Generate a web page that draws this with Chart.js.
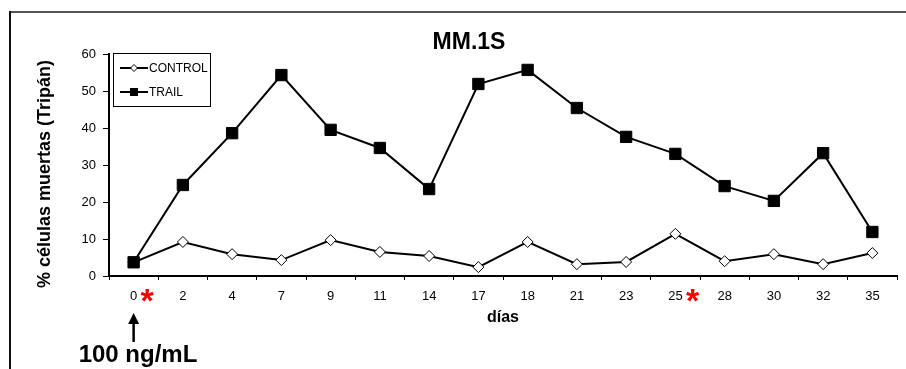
<!DOCTYPE html>
<html><head><meta charset="utf-8">
<script src="https://cdn.jsdelivr.net/npm/chart.js@4"></script>
<style>html,body{margin:0;padding:0;background:#fff}#wrap{position:relative;width:906px;height:369px}</style>
</head><body><div id="wrap"><canvas id="c" width="906" height="369"></canvas></div>
<script>
const days = ['0','2','4','7','9','11','14','17','18','21','23','25','28','30','32','35'];
const control = [3.7,9.2,5.9,4.3,9.7,6.5,5.4,2.4,9.2,3.2,3.8,11.4,4.0,5.9,3.2,6.2];
const trail = [3.7,24.6,38.6,54.3,39.5,34.6,23.5,51.9,55.7,45.4,37.6,33.0,24.3,20.3,33.2,11.9];
const seriesNames = ['CONTROL','TRAIL'];
const chartTitle = 'MM.1S';
const xTitle = 'días';
const yTitle = '% células muertas (Tripán)';
const doseNote = '100 ng/mL';
const markedDays = ['0','25'];
const yMin = 0, yMax = 60, yStep = 10;

const FONT = '"Liberation Sans", Arial, sans-serif';

const extras = {
  id: 'extras',
  afterDraw(chart) {
    const ctx = chart.ctx;
    const xs = chart.scales.x, ys = chart.scales.y, ca = chart.chartArea;
    ctx.save();
    // outer frame
    ctx.fillStyle = '#555';
    ctx.fillRect(9, 11, 897, 2);
    ctx.fillStyle = '#111';
    ctx.fillRect(9, 11, 2, 358);
    // title
    ctx.fillStyle = '#000';
    ctx.font = 'bold 23px ' + FONT;
    ctx.textAlign = 'center';
    ctx.textBaseline = 'middle';
    ctx.fillText(chartTitle, 469, 43);
    // x title
    ctx.font = 'bold 16px ' + FONT;
    ctx.fillText(xTitle, (ca.left + ca.right) / 2, 318);
    // y title
    ctx.save();
    ctx.font = 'bold 18px ' + FONT;
    ctx.translate(45, 174);
    ctx.rotate(-Math.PI / 2);
    ctx.fillText(yTitle, 0, 0);
    ctx.restore();
    // asterisks
    markedDays.forEach(d => {
      const i = days.indexOf(d);
      const px = xs.getPixelForValue(i);
      ctx.font = '13px ' + FONT;
      const w = ctx.measureText(d).width;
      ctx.font = 'bold 34px ' + FONT;
      ctx.fillStyle = '#ff0000';
      ctx.textAlign = 'center';
      ctx.textBaseline = 'alphabetic';
      ctx.fillText('*', px + w / 2 + 10, 312);
    });
    // arrow
    const ax = xs.getPixelForValue(0);
    ctx.strokeStyle = '#000';
    ctx.fillStyle = '#000';
    ctx.lineWidth = 2.5;
    ctx.beginPath();
    ctx.moveTo(ax, 342); ctx.lineTo(ax, 322); ctx.stroke();
    ctx.beginPath();
    ctx.moveTo(ax - 5.5, 324); ctx.lineTo(ax + 5.5, 324); ctx.lineTo(ax, 313); ctx.closePath(); ctx.fill();
    // dose note
    ctx.font = 'bold 24px ' + FONT;
    ctx.textAlign = 'center';
    ctx.textBaseline = 'middle';
    ctx.fillText(doseNote, 138, 355);
    // legend
    ctx.lineWidth = 1;
    ctx.strokeStyle = '#000';
    ctx.strokeRect(113.5, 53.5, 97, 53);
    const rows = [68, 92];
    rows.forEach((yy, k) => {
      ctx.lineWidth = 2;
      ctx.beginPath(); ctx.moveTo(120, yy); ctx.lineTo(148, yy); ctx.stroke();
      if (k === 0) {
        ctx.lineWidth = 1;
        ctx.fillStyle = '#fff';
        ctx.beginPath();
        ctx.moveTo(134, yy - 3.5); ctx.lineTo(137.5, yy); ctx.lineTo(134, yy + 3.5); ctx.lineTo(130.5, yy); ctx.closePath();
        ctx.fill(); ctx.stroke();
      } else {
        ctx.fillStyle = '#000';
        ctx.fillRect(130, yy - 4, 8, 8);
      }
      ctx.fillStyle = '#000';
      ctx.font = '12px ' + FONT;
      ctx.textAlign = 'left';
      ctx.textBaseline = 'middle';
      ctx.fillText(seriesNames[k], 149, yy + 1);
    });
    ctx.restore();
  }
};

new Chart(document.getElementById('c'), {
  type: 'line',
  data: {
    labels: days,
    datasets: [
      { label: seriesNames[0], data: control, order: 1, borderColor: '#000', borderWidth: 2,
        pointStyle: 'rectRot', pointRadius: 5.5, pointBackgroundColor: '#fff', pointBorderColor: '#000', pointBorderWidth: 1, tension: 0 },
      { label: seriesNames[1], data: trail, order: 0, borderColor: '#000', borderWidth: 2,
        pointStyle: 'rect', pointRadius: 8, pointBackgroundColor: '#000', pointBorderColor: '#000', pointBorderWidth: 1, tension: 0 }
    ]
  },
  options: {
    responsive: false,
    animation: false,
    devicePixelRatio: 1,
    layout: { padding: { top: 54, left: 0, right: 0, bottom: 0 } },
    plugins: { legend: { display: false }, title: { display: false }, tooltip: { enabled: false } },
    scales: {
      x: {
        type: 'category', offset: true,
        grid: { offset: true, drawOnChartArea: false, drawTicks: true, tickLength: 4, color: '#000', lineWidth: 1 },
        border: { color: '#000', width: 2 },
        ticks: { color: '#000', font: { family: FONT, size: 13 }, padding: 9, maxRotation: 0, autoSkip: false },
        afterFit: s => { s.height = 93; }
      },
      y: {
        min: yMin, max: yMax,
        grid: { drawOnChartArea: false, drawTicks: true, tickLength: 6, color: '#000', lineWidth: 1 },
        border: { color: '#000', width: 2 },
        ticks: { stepSize: yStep, color: '#000', font: { family: FONT, size: 13 }, padding: 7 },
        afterFit: s => { s.width = 109; }
      }
    }
  },
  plugins: [extras]
});
</script>
</body></html>
